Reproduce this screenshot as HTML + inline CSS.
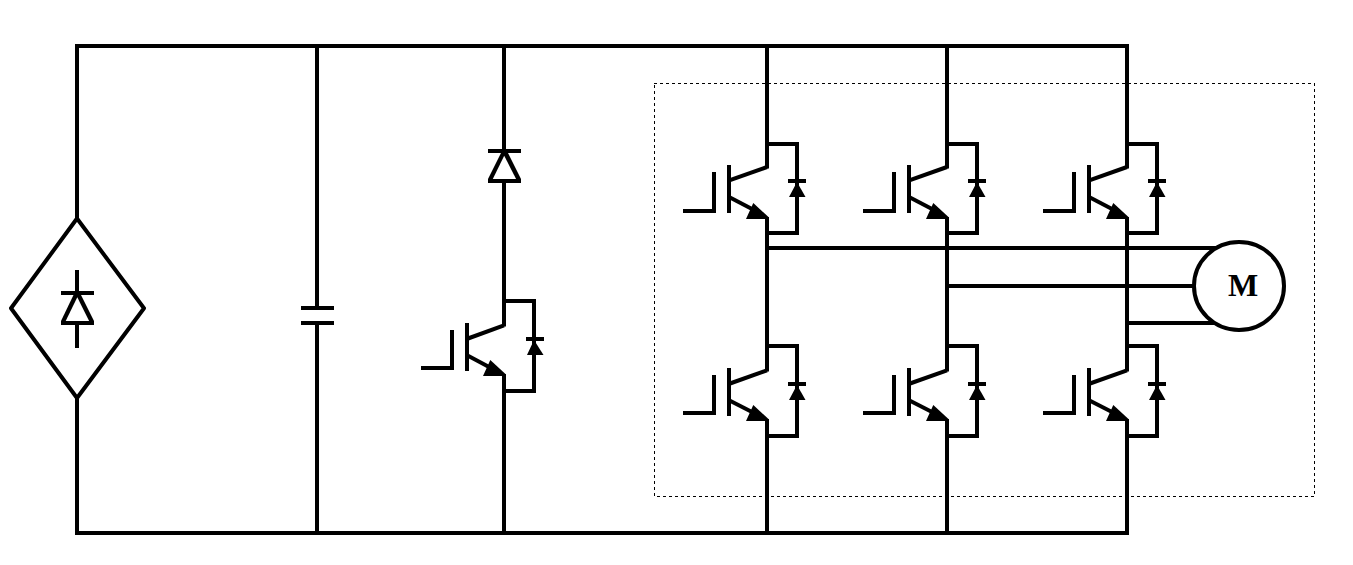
<!DOCTYPE html>
<html><head><meta charset="utf-8"><style>
html,body{margin:0;padding:0;background:#fff;}
body{width:1353px;height:565px;overflow:hidden;font-family:"Liberation Serif",serif;}
svg{display:block;}
</style></head><body>
<svg width="1353" height="565" viewBox="0 0 1353 565">
<rect width="1353" height="565" fill="#fff"/>
<rect x="75" y="44" width="1054" height="4" fill="#000"/>
<rect x="75" y="531" width="1054" height="4" fill="#000"/>
<rect x="75" y="44" width="4" height="176" fill="#000"/>
<rect x="75" y="396" width="4" height="139" fill="#000"/>
<polygon points="77,218.5 144,308.3 77,398 11,308.3" fill="none" stroke="#000" stroke-width="4" stroke-linejoin="round"/>
<rect x="75" y="270" width="4" height="25" fill="#000"/>
<rect x="61" y="291" width="33" height="4" fill="#000"/>
<polygon points="61,325 61,321 73.5,295 81,295 94,321 94,325" fill="#000"/>
<polygon points="65.7,321 77.3,297.2 89.1,321" fill="#fff"/>
<rect x="75" y="325" width="4" height="23" fill="#000"/>
<rect x="315" y="44" width="4" height="264" fill="#000"/>
<rect x="315" y="323" width="4" height="212" fill="#000"/>
<rect x="301" y="306" width="33" height="4" fill="#000"/>
<rect x="301" y="321" width="33" height="4" fill="#000"/>
<rect x="502" y="44" width="4" height="109" fill="#000"/>
<rect x="488" y="149" width="33" height="4" fill="#000"/>
<polygon points="488,183 488,179 501,153 508,153 521,179 521,183" fill="#000"/>
<polygon points="492.8,179 504.2,155.8 516.1,179" fill="#fff"/>
<rect x="502" y="183" width="4" height="143.5" fill="#000"/>
<rect x="502" y="374" width="4" height="161" fill="#000"/>
<rect x="421" y="366" width="33" height="4" fill="#000"/>
<rect x="450" y="330" width="4" height="40" fill="#000"/>
<rect x="465" y="323" width="4" height="48" fill="#000"/>
<line x1="468" y1="338.5" x2="504" y2="325.3" stroke="#000" stroke-width="4" stroke-linecap="butt"/>
<line x1="468" y1="355.8" x2="490" y2="367.5" stroke="#000" stroke-width="4" stroke-linecap="butt"/>
<polygon points="490.3,360 483,376 506,376 506,374.5" fill="#000"/>
<rect x="502" y="299" width="34" height="4" fill="#000"/>
<rect x="532" y="299" width="4" height="94" fill="#000"/>
<rect x="502" y="389" width="34" height="4" fill="#000"/>
<rect x="526" y="337" width="18" height="4" fill="#000"/>
<polygon points="534,340 527,355 543.5,355" fill="#000"/>
<rect x="765" y="44" width="4" height="124.5" fill="#000"/>
<rect x="765" y="217" width="4" height="153.5" fill="#000"/>
<rect x="683" y="209" width="33" height="4" fill="#000"/>
<rect x="712" y="172" width="4" height="41" fill="#000"/>
<rect x="727" y="165" width="4" height="48" fill="#000"/>
<line x1="730" y1="180.2" x2="767" y2="167.0" stroke="#000" stroke-width="4" stroke-linecap="butt"/>
<line x1="730" y1="197.5" x2="753" y2="209.5" stroke="#000" stroke-width="4" stroke-linecap="butt"/>
<polygon points="753.3,203 746,219 769,219 769,217.5" fill="#000"/>
<rect x="765" y="142" width="34" height="4" fill="#000"/>
<rect x="795" y="142" width="4" height="93" fill="#000"/>
<rect x="765" y="231" width="34" height="4" fill="#000"/>
<rect x="788" y="179" width="18" height="4" fill="#000"/>
<polygon points="797,182 789,197 805.5,197" fill="#000"/>
<rect x="765" y="217" width="4" height="154.5" fill="#000"/>
<rect x="765" y="419" width="4" height="116" fill="#000"/>
<rect x="683" y="411" width="33" height="4" fill="#000"/>
<rect x="712" y="375" width="4" height="40" fill="#000"/>
<rect x="727" y="368" width="4" height="48" fill="#000"/>
<line x1="730" y1="383.5" x2="767" y2="370.3" stroke="#000" stroke-width="4" stroke-linecap="butt"/>
<line x1="730" y1="400.8" x2="753" y2="412.5" stroke="#000" stroke-width="4" stroke-linecap="butt"/>
<polygon points="753.3,405 746,421 769,421 769,419.5" fill="#000"/>
<rect x="765" y="344" width="34" height="4" fill="#000"/>
<rect x="795" y="344" width="4" height="94" fill="#000"/>
<rect x="765" y="434" width="34" height="4" fill="#000"/>
<rect x="788" y="382" width="18" height="4" fill="#000"/>
<polygon points="797,385 789,400 805.5,400" fill="#000"/>
<rect x="945" y="44" width="4" height="124.5" fill="#000"/>
<rect x="945" y="217" width="4" height="153.5" fill="#000"/>
<rect x="863" y="209" width="33" height="4" fill="#000"/>
<rect x="892" y="172" width="4" height="41" fill="#000"/>
<rect x="907" y="165" width="4" height="48" fill="#000"/>
<line x1="910" y1="180.2" x2="947" y2="167.0" stroke="#000" stroke-width="4" stroke-linecap="butt"/>
<line x1="910" y1="197.5" x2="933" y2="209.5" stroke="#000" stroke-width="4" stroke-linecap="butt"/>
<polygon points="933.3,203 926,219 949,219 949,217.5" fill="#000"/>
<rect x="945" y="142" width="34" height="4" fill="#000"/>
<rect x="975" y="142" width="4" height="93" fill="#000"/>
<rect x="945" y="231" width="34" height="4" fill="#000"/>
<rect x="968" y="179" width="18" height="4" fill="#000"/>
<polygon points="977,182 969,197 985.5,197" fill="#000"/>
<rect x="945" y="217" width="4" height="154.5" fill="#000"/>
<rect x="945" y="419" width="4" height="116" fill="#000"/>
<rect x="863" y="411" width="33" height="4" fill="#000"/>
<rect x="892" y="375" width="4" height="40" fill="#000"/>
<rect x="907" y="368" width="4" height="48" fill="#000"/>
<line x1="910" y1="383.5" x2="947" y2="370.3" stroke="#000" stroke-width="4" stroke-linecap="butt"/>
<line x1="910" y1="400.8" x2="933" y2="412.5" stroke="#000" stroke-width="4" stroke-linecap="butt"/>
<polygon points="933.3,405 926,421 949,421 949,419.5" fill="#000"/>
<rect x="945" y="344" width="34" height="4" fill="#000"/>
<rect x="975" y="344" width="4" height="94" fill="#000"/>
<rect x="945" y="434" width="34" height="4" fill="#000"/>
<rect x="968" y="382" width="18" height="4" fill="#000"/>
<polygon points="977,385 969,400 985.5,400" fill="#000"/>
<rect x="1125" y="44" width="4" height="124.5" fill="#000"/>
<rect x="1125" y="217" width="4" height="153.5" fill="#000"/>
<rect x="1043" y="209" width="33" height="4" fill="#000"/>
<rect x="1072" y="172" width="4" height="41" fill="#000"/>
<rect x="1087" y="165" width="4" height="48" fill="#000"/>
<line x1="1090" y1="180.2" x2="1127" y2="167.0" stroke="#000" stroke-width="4" stroke-linecap="butt"/>
<line x1="1090" y1="197.5" x2="1113" y2="209.5" stroke="#000" stroke-width="4" stroke-linecap="butt"/>
<polygon points="1113.3,203 1106,219 1129,219 1129,217.5" fill="#000"/>
<rect x="1125" y="142" width="34" height="4" fill="#000"/>
<rect x="1155" y="142" width="4" height="93" fill="#000"/>
<rect x="1125" y="231" width="34" height="4" fill="#000"/>
<rect x="1148" y="179" width="18" height="4" fill="#000"/>
<polygon points="1157,182 1149,197 1165.5,197" fill="#000"/>
<rect x="1125" y="217" width="4" height="154.5" fill="#000"/>
<rect x="1125" y="419" width="4" height="116" fill="#000"/>
<rect x="1043" y="411" width="33" height="4" fill="#000"/>
<rect x="1072" y="375" width="4" height="40" fill="#000"/>
<rect x="1087" y="368" width="4" height="48" fill="#000"/>
<line x1="1090" y1="383.5" x2="1127" y2="370.3" stroke="#000" stroke-width="4" stroke-linecap="butt"/>
<line x1="1090" y1="400.8" x2="1113" y2="412.5" stroke="#000" stroke-width="4" stroke-linecap="butt"/>
<polygon points="1113.3,405 1106,421 1129,421 1129,419.5" fill="#000"/>
<rect x="1125" y="344" width="34" height="4" fill="#000"/>
<rect x="1155" y="344" width="4" height="94" fill="#000"/>
<rect x="1125" y="434" width="34" height="4" fill="#000"/>
<rect x="1148" y="382" width="18" height="4" fill="#000"/>
<polygon points="1157,385 1149,400 1165.5,400" fill="#000"/>
<rect x="765" y="246" width="474" height="4" fill="#000"/>
<rect x="945" y="284" width="294" height="4" fill="#000"/>
<rect x="1125" y="321" width="114" height="4" fill="#000"/>
<ellipse cx="1239" cy="286" rx="45" ry="44" fill="#fff" stroke="#000" stroke-width="4"/>
<text x="1243" y="296" text-anchor="middle" font-family="Liberation Serif" font-weight="bold" font-size="32" fill="#000">M</text>
<g stroke="#000" stroke-width="1" stroke-dasharray="3 3" fill="none"><line x1="654" y1="83.5" x2="1315" y2="83.5"/><line x1="654.5" y1="85" x2="654.5" y2="497"/><line x1="657" y1="496.5" x2="1315" y2="496.5"/><line x1="1314.5" y1="83" x2="1314.5" y2="497"/></g>
</svg>
</body></html>
